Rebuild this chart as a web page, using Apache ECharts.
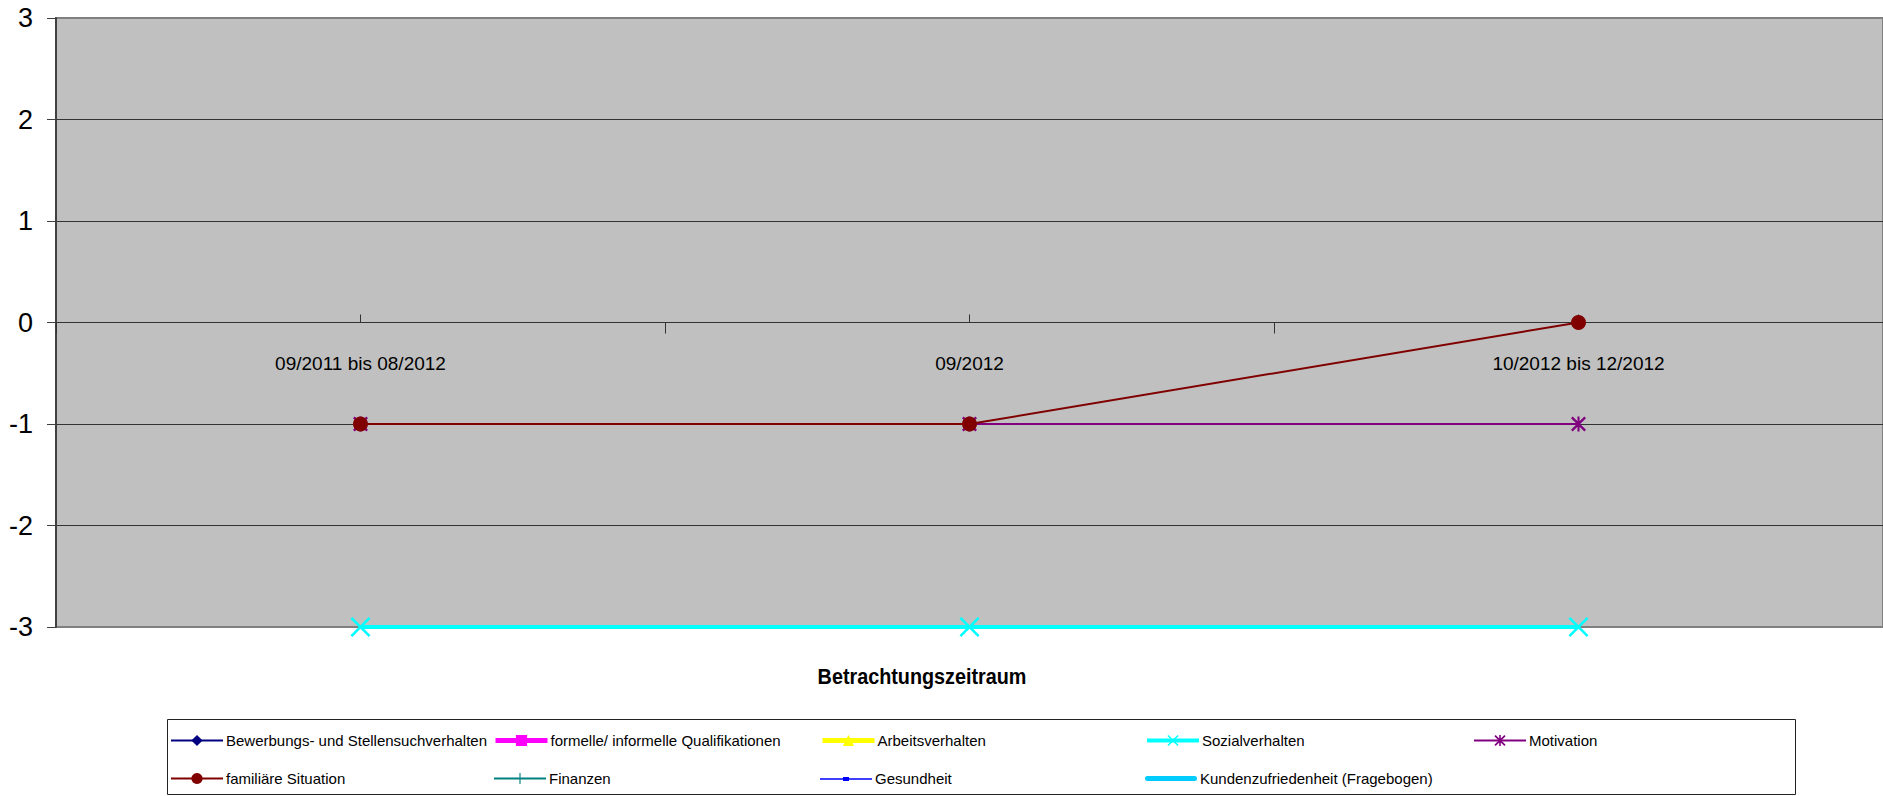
<!DOCTYPE html>
<html>
<head>
<meta charset="utf-8">
<script src="https://cdn.jsdelivr.net/npm/echarts@6/dist/echarts.min.js"></script>
<style>
html,body{margin:0;padding:0;background:#fff;}
#chart{width:1883px;height:796px;}
</style>
</head>
<body>
<div id="chart"></div>
<script>
// ---- data ----
const categories = ['09/2011 bis 08/2012', '09/2012', '10/2012 bis 12/2012'];
const seriesNames = [
  'Bewerbungs- und Stellensuchverhalten',
  'formelle/ informelle Qualifikationen',
  'Arbeitsverhalten',
  'Sozialverhalten',
  'Motivation',
  'familiäre Situation',
  'Finanzen',
  'Gesundheit',
  'Kundenzufriedenheit (Fragebogen)'
];
const bewerbung = [null, null, null];
const qualifikation = [null, null, null];
const arbeitsverhalten = [null, null, null];
const sozialverhalten = [-3, -3, -3];
const motivation = [-1, -1, -1];
const familiaer = [-1, -1, 0];
const finanzen = [null, null, null];
const gesundheit = [null, null, null];
const kundenzufriedenheit = [null, null, null];
const yMin = -3, yMax = 3, yStep = 1;
const axisTitle = 'Betrachtungszeitraum';

// ---- styling ----
const FONT = '"Liberation Sans", Arial, Helvetica, sans-serif';
const SYM_X = 'path://M0,1.8L1.8,0L10,8.2L18.2,0L20,1.8L11.8,10L20,18.2L18.2,20L10,11.8L1.8,20L0,18.2L8.2,10Z';
const SYM_AST = 'path://M0,2.2L2.2,0L10,7.8L17.8,0L20,2.2L12.2,10L20,17.8L17.8,20L10,12.2L2.2,20L0,17.8L7.8,10Z M8.6,0L11.4,0L11.4,20L8.6,20Z';
const SYM_PLUS = 'path://M9,0L11,0L11,9L20,9L20,11L11,11L11,20L9,20L9,11L0,11L0,9L9,9Z';
const ICON_THICK = 'path://M2.5,0L49.5,0A2.5,2.5 0 0 1 49.5,5L2.5,5A2.5,2.5 0 0 1 2.5,0Z';
const ICON_GESUND = 'path://M0,2.2L52,2.2L52,3.8L0,3.8Z M23,1L29,1L29,5L23,5Z M0,0L0.01,0L0.01,0.01Z';

const defs = [
  {data: bewerbung, color: '#000080', symbol: 'diamond', size: 12, width: 2},
  {data: qualifikation, color: '#FF00FF', symbol: 'rect', size: 11, width: 5},
  {data: arbeitsverhalten, color: '#FFFF00', symbol: 'triangle', size: 12, width: 5},
  {data: sozialverhalten, color: '#00FFFF', symbol: SYM_X, size: 20, width: 4},
  {data: motivation, color: '#800080', symbol: SYM_AST, size: 15, width: 2},
  {data: familiaer, color: '#800000', symbol: 'circle', size: 15, width: 2},
  {data: finanzen, color: '#008080', symbol: SYM_PLUS, size: 14, width: 2},
  {data: gesundheit, color: '#0000FF', symbol: 'rect', size: 5, width: 2, icon: ICON_GESUND},
  {data: kundenzufriedenheit, color: '#00CCFF', symbol: 'none', size: 0, width: 5, icon: ICON_THICK}
];

const series = defs.map((d, i) => ({
  name: seriesNames[i],
  type: 'line',
  xAxisIndex: 0,
  yAxisIndex: 0,
  data: d.data,
  symbol: d.symbol,
  symbolSize: d.size,
  showSymbol: d.symbol !== 'none',
  clip: false,
  lineStyle: {color: d.color, width: d.width},
  itemStyle: {color: d.color, borderWidth: 0},
  emphasis: {disabled: true},
  z: 3 + i
}));

// legend layout: positions of each item (left, top)
const legendCols = [170, 493, 820, 1145, 1473];
const legendRows = [733, 771];
const legends = seriesNames.map((n, i) => ({
  data: [defs[i].icon ? {name: n, icon: defs[i].icon} : n],
  left: legendCols[i % 5],
  top: legendRows[Math.floor(i / 5)],
  padding: 0,
  itemWidth: 52,
  itemHeight: 14,
  itemGap: 0,
  selectedMode: false,
  lineStyle: {width: defs[i].width},
  textStyle: {fontFamily: FONT, fontSize: 15, color: '#000', padding: [0, 0, 0, -2]}
}));

const zeroOffset = -304.5; // puts the category axis on the value 0 line

const chart = echarts.init(document.getElementById('chart'), null, {renderer: 'svg'});
chart.setOption({
  animation: false,
  backgroundColor: '#ffffff',
  grid: {
    left: 56, top: 18, width: 1832, height: 609,
    show: true, backgroundColor: '#C0C0C0', borderColor: '#808080', borderWidth: 2,
    containLabel: false
  },
  xAxis: [{
    type: 'category',
    data: categories,
    boundaryGap: true,
    position: 'bottom',
    offset: zeroOffset,
    axisLine: {show: true, onZero: false, lineStyle: {color: '#333333', width: 1}},
    axisTick: {show: true, inside: false, length: 11, lineStyle: {color: '#333333', width: 1}},
    axisLabel: {show: true, margin: 31, fontFamily: FONT, fontSize: 19, color: '#000', interval: 0},
    splitLine: {show: false}
  }, {
    type: 'category',
    data: categories,
    boundaryGap: true,
    position: 'bottom',
    offset: zeroOffset,
    axisLine: {show: false, onZero: false},
    axisTick: {show: true, inside: true, alignWithLabel: true, length: 8, lineStyle: {color: '#333333', width: 1}},
    axisLabel: {show: false},
    splitLine: {show: false}
  }],
  yAxis: {
    type: 'value',
    min: yMin, max: yMax, interval: yStep,
    axisLine: {show: true, onZero: false, lineStyle: {color: '#404040', width: 2}},
    axisTick: {show: true, inside: false, length: 9, lineStyle: {color: '#404040', width: 1}},
    axisLabel: {margin: 23, fontFamily: FONT, fontSize: 27, color: '#000'},
    splitLine: {show: true, showMinLine: false, showMaxLine: false, lineStyle: {color: '#333333', width: 1}}
  },
  legend: legends,
  graphic: [
    {type: 'rect', shape: {x: 167.5, y: 719.5, width: 1628, height: 75}, style: {fill: 'none', stroke: '#222', lineWidth: 1}, z: 0},
    {type: 'text', x: 922, y: 676, scaleX: 0.9, style: {text: axisTitle, font: 'bold 22px ' + FONT, fill: '#000', textAlign: 'center', textVerticalAlign: 'middle'}}
  ],
  series: series
});
</script>
</body>
</html>
